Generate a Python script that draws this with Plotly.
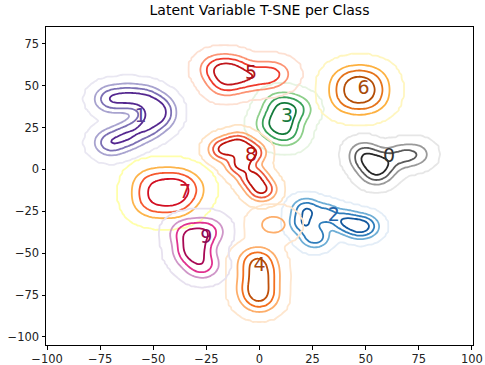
import numpy as np
import plotly.graph_objects as go

# ---- data ----
class_labels = ["0", "1", "2", "3", "4", "5", "6", "7", "8", "9"]
label_x = [61, -56, 35, 13, 0, -4, 49, -35, -4, -25]
label_y = [7, 31, -28, 31, -58, 57, 48, -14, 8, -41]

# anchor points (x, y, weight) of each class's embedding cloud
pts_0 = [(51, 5, 1), (58, 4, 1), (55, -2, 1), (49, 10, 0.6), (67, 8, 0.7), (74, 9, 0.5)]
pts_1 = [(-70, 42, 1), (-62, 43, 1), (-54, 42, 1), (-48, 37, 1), (-48, 31, 1),
         (-54, 25, 1), (-62, 20, 1), (-70, 16, 1)]
pts_2 = [(22, -24, 1), (21, -32, 1), (26, -40, 1), (31, -27, 0.8), (40, -31, 1),
         (46, -34, 1), (50, -34, 0.8)]
pts_3 = [(10, 38, 1), (11, 30, 1), (12, 22, 1), (17, 36, 0.8), (6, 27, 0.8)]
pts_4 = [(-1, -55, 1), (0, -63, 1), (-1, -71, 1), (0, -77, 0.8), (4, -33, 0.22), (9, -33, 0.22)]
pts_5 = [(-20, 60, 1), (-13, 60, 1), (-16, 52, 1), (-7, 55, 1), (2, 56, 0.8), (8, 57, 0.5)]
pts_6 = [(43, 52, 1), (51, 52, 1), (43, 43, 1), (51, 43, 1)]
pts_7 = [(-50, -9, 1), (-40, -9, 1), (-50, -19, 1), (-40, -19, 1), (-35, -12, 0.7)]
pts_8 = [(-17, 12, 1), (-10, 15, 1), (-4, 10, 1), (-9, 3, 1), (-3, -5, 1), (1, -12, 1)]
pts_9 = [(-34, -38, 1), (-25, -37, 1), (-32, -50, 1), (-27, -57, 1), (-30, -45, 1)]
class_points = [pts_0, pts_1, pts_2, pts_3, pts_4, pts_5, pts_6, pts_7, pts_8, pts_9]
bandwidth = [4.5, 4.7, 4.0, 5.0, 5.2, 5.0, 6.0, 6.0, 4.0, 5.0]

level_fracs = [0.01, 0.15, 0.35, 0.65]

level_colors = [
    ["#e6e6e6", "#9a9a9a", "#5a5a5a", "#262626"],
    ["#e9e7f2", "#a8a3cf", "#7c70b4", "#54278f"],
    ["#e3edf7", "#6eaed6", "#2f7dbb", "#12589e"],
    ["#e6f4e1", "#8dcf8a", "#3aa25a", "#137a3a"],
    ["#fee6ce", "#fdae6b", "#f3701f", "#c0500a"],
    ["#fde0d2", "#fc9373", "#ef3b2c", "#c0161c"],
    ["#fff6bf", "#fdb03f", "#e5731b", "#b44d05"],
    ["#ffffaa", "#fdb44b", "#f6592f", "#d20f22"],
    ["#fee3c4", "#fdaf76", "#ee5a3e", "#be120b"],
    ["#e7e1ef", "#cf96c8", "#e0318f", "#a80854"],
]
text_colors = ["#333333", "#5b3f99", "#2463a8", "#177a3d", "#a8470a",
               "#a8141a", "#a84a08", "#c8142e", "#b4100f", "#8e0b52"]

xg = np.arange(-102, 102.01, 1.25)
yg = np.arange(-106, 86.01, 1.25)
X, Y = np.meshgrid(xg, yg)

fig = go.Figure()
for k, pts in enumerate(class_points):
    bw = bandwidth[k]
    Z = np.zeros_like(X)
    for px, py, w in pts:
        Z += w * np.exp(-0.5 * (((X - px) / bw) ** 2 + ((Y - py) / bw) ** 2))
    Z = Z / Z.max()
    Zi = np.interp(Z, [0] + level_fracs + [1.0001], [0, 1, 2, 3, 4, 5])
    cols = level_colors[k]
    cs = [[i / 3, c] for i, c in enumerate(cols)]
    fig.add_trace(go.Contour(
        x=np.round(xg, 2), y=np.round(yg, 2), z=np.round(Zi, 3),
        contours=dict(coloring="lines", start=1, end=4, size=1),
        colorscale=cs, zmin=1, zmax=4, showscale=False,
        line=dict(width=1.8), hoverinfo="skip",
    ))

fig.add_trace(go.Scatter(
    x=label_x, y=label_y, mode="text", text=class_labels,
    textfont=dict(size=19, color=text_colors, family="DejaVu Sans"),
    showlegend=False, hoverinfo="skip",
))

axis_common = dict(
    showgrid=False, zeroline=False, showline=True, linecolor="black",
    linewidth=1, mirror=True, ticks="outside", ticklen=3.5, tickcolor="black",
    tickfont=dict(size=11.5, color="#222"), automargin=False,
)
fig.update_xaxes(range=[-100.5, 100.5], tickvals=[-100, -75, -50, -25, 0, 25, 50, 75, 100],
                 **axis_common)
fig.update_yaxes(range=[-104.8, 85], tickvals=[-100, -75, -50, -25, 0, 25, 50, 75],
                 **axis_common)
fig.update_layout(
    width=485, height=365,
    margin=dict(l=46, r=12, t=27, b=20),
    plot_bgcolor="white", paper_bgcolor="white",
    font=dict(family="DejaVu Sans", color="#222"),
    title=dict(text="Latent Variable T-SNE per Class", xref="paper", x=0.5, xanchor="center",
               yref="container", y=0.985, yanchor="top", font=dict(size=14, color="black")),
    showlegend=False,
)
fig.write_html("out.html", config={"displayModeBar": False},
               post_script="document.body.style.margin='0px';")
